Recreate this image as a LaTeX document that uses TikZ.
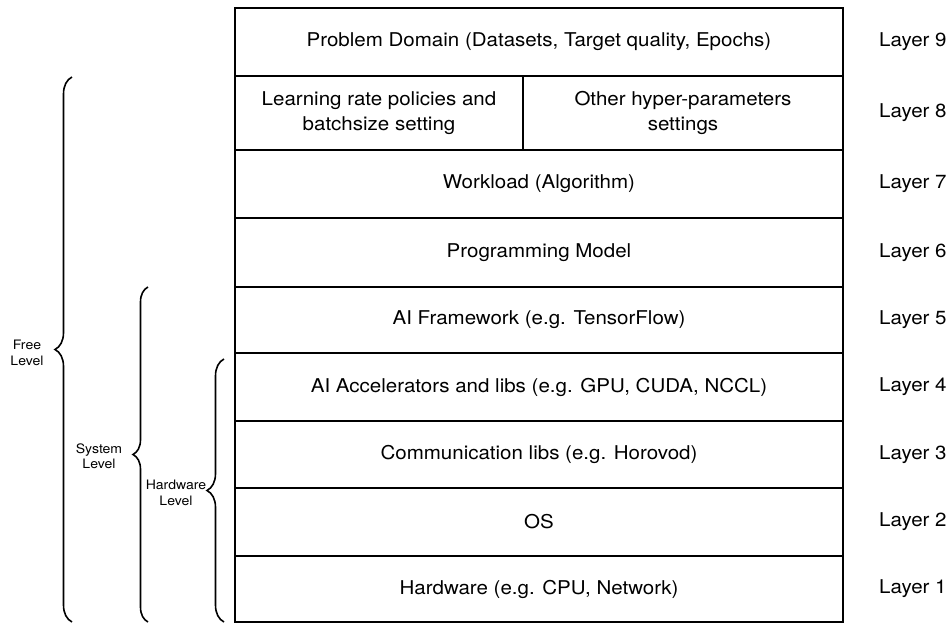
\documentclass[tikz,border=0pt]{standalone}
\usepackage{fontspec}
\setmainfont[FakeStretch=1.08]{TeX Gyre Heros}
\usetikzlibrary{decorations.pathreplacing}
\tikzset{
  layerbox/.style={draw, line width=2pt, inner sep=0pt, align=center,
    font=\fontsize{19}{25}\selectfont, minimum width=608pt},
  layerlabel/.style={anchor=west, inner sep=0pt, font=\fontsize{19}{22}\selectfont},
  levelbrace/.style={decorate, line width=1.6pt,
    decoration={brace, amplitude=#1}},
  leveltext/.style={align=center, inner sep=0pt, font=\fontsize{13}{15.5}\selectfont}
}
\begin{document}
\begin{tikzpicture}[x=1pt,y=-1pt]
\useasboundingbox (0,0) rectangle (951,624);
% layer boxes
\node[layerbox, minimum height=68pt] (l9) at (539,42) {Problem Domain (Datasets, Target quality, Epochs)};
\node[layerbox, minimum width=288pt, minimum height=74pt] (l8a) at (379,113) {Learning rate policies and\\batchsize setting};
\node[layerbox, minimum width=320pt, minimum height=74pt] (l8b) at (683,113) {Other hyper-parameters\\settings};
\node[layerbox, minimum height=68pt] (l7) at (539,184) {Workload (Algorithm)};
\node[layerbox, minimum height=69pt] (l6) at (539,252.5) {Programming Model};
\node[layerbox, minimum height=66pt] (l5) at (539,320) {AI Framework (e.g. TensorFlow)};
\node[layerbox, minimum height=68pt] (l4) at (539,387) {AI Accelerators and libs (e.g. GPU, CUDA, NCCL)};
\node[layerbox, minimum height=67pt] (l3) at (539,454.5) {Communication libs (e.g. Horovod)};
\node[layerbox, minimum height=68pt] (l2) at (539,522) {OS};
\node[layerbox, minimum height=66pt] (l1) at (539,589) {Hardware (e.g. CPU, Network)};
% layer labels
\node[layerlabel] (t9) at (879,42) {Layer 9};
\node[layerlabel] (t8) at (879,113) {Layer 8};
\node[layerlabel] (t7) at (879,184) {Layer 7};
\node[layerlabel] (t6) at (879,252.5) {Layer 6};
\node[layerlabel] (t5) at (879,320) {Layer 5};
\node[layerlabel] (t4) at (879,387) {Layer 4};
\node[layerlabel] (t3) at (879,454.5) {Layer 3};
\node[layerlabel] (t2) at (879,522) {Layer 2};
\node[layerlabel] (t1) at (879,589) {Layer 1};
% braces
\coordinate (fb) at (72,622);
\coordinate (ft) at (72,77);
\coordinate (sb) at (148,622);
\coordinate (st) at (148,287);
\coordinate (hb) at (224,622);
\coordinate (ht) at (224,359);
\draw[levelbrace=17pt] (fb) -- (ft);
\draw[levelbrace=15pt] (sb) -- (st);
\draw[levelbrace=17pt] (hb) -- (ht);
\node[leveltext] (free) at (27,353) {Free\\Level};
\node[leveltext] (sys) at (99,456) {System\\Level};
\node[leveltext] (hw) at (176,493) {Hardware\\Level};
\end{tikzpicture}
\end{document}
